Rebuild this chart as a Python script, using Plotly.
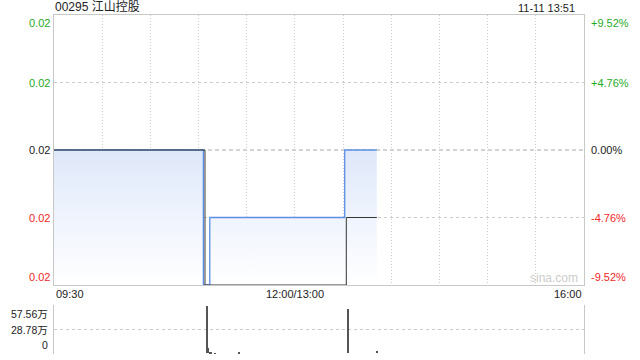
import plotly.graph_objects as go

title_text = "00295 江山控股"
timestamp = "11-11 13:51"
prev_close = 0.021

price_times = ["09:30", "11:03", "11:07", "13:31", "13:51"]
price_vals = [0.021, 0.019, 0.020, 0.021, 0.021]

avg_times = ["09:30", "11:04", "13:32", "13:51"]
avg_vals = [0.021, 0.019, 0.020, 0.020]

vol_times = ["11:05", "11:06", "11:07", "11:08", "11:10", "11:25", "13:33", "13:51"]
vol_vals = [575600, 70000, 15000, 8000, 5000, 6000, 530000, 35000]

price_ticks = [0.019, 0.020, 0.021, 0.022, 0.023]
price_labels = ["0.02", "0.02", "0.02", "0.02", "0.02"]
pct_labels = ["-9.52%", "-4.76%", "0.00%", "+4.76%", "+9.52%"]
vol_ticks = [0, 287800, 575600]
vol_labels = ["0", "28.78万", "57.56万"]
x_label_times = ["09:30", "12:00", "16:00"]
x_labels = ["09:30", "12:00/13:00", "16:00"]
grid_times = ["10:00", "10:30", "11:00", "11:30", "12:00", "13:30", "14:00",
              "14:30", "15:00", "15:30"]


def tmin(s):
    h, m = map(int, s.split(":"))
    mins = h * 60 + m
    if mins <= 720:
        return mins - 570
    return mins - 780 + 150


FONT = "Liberation Sans, Arial, Noto Sans CJK SC, sans-serif"
GREEN = "#1faa1f"
RED = "#f02828"
BLACK = "#222222"
GRID = "#cfcfcf"
HGRID = "#cbcbcb"
BORDER = "#c8c8c8"
DOT = "1px,2px"

px = [tmin(t) for t in price_times]
ax = [tmin(t) for t in avg_times]
vx = [tmin(t) for t in vol_times]

fig = go.Figure()

fig.add_trace(go.Scatter(
    x=px, y=price_vals, mode="lines", line=dict(color="#5b8fe3", width=1.3, shape="hv"),
    fill="tozeroy",
    fillgradient=dict(type="vertical", start=0.019, stop=0.021,
                      colorscale=[[0, "rgba(255,255,255,1)"], [1, "#dfe8fa"]]),
    xaxis="x", yaxis="y", hoverinfo="skip", showlegend=False))

fig.add_trace(go.Scatter(
    x=ax, y=avg_vals, mode="lines", line=dict(color="#333333", width=1, shape="hv"),
    xaxis="x", yaxis="y", hoverinfo="skip", showlegend=False))

fig.add_trace(go.Bar(
    x=vx, y=vol_vals, width=0.7, marker=dict(color="#555555", line=dict(width=0)),
    xaxis="x2", yaxis="y2", hoverinfo="skip", showlegend=False))

price_dom = [(354 - 285) / 339, 1.0]
vol_dom = [0.0, (354 - 305) / 339]
vpad = vol_ticks[-1] * 0.012

fig.update_layout(
    width=640, height=360, autosize=False,
    margin=dict(l=54, r=56, t=15, b=6, pad=0),
    paper_bgcolor="white", plot_bgcolor="white",
    font=dict(family=FONT, size=11, color=BLACK),
    bargap=0,
    xaxis=dict(domain=[0, 1], range=[0, 330], anchor="y",
               tickvals=[tmin(t) for t in grid_times], showticklabels=False,
               showgrid=True, gridcolor=GRID, griddash=DOT, gridwidth=1,
               showline=True, linecolor=BORDER, linewidth=1, mirror=True,
               zeroline=False, ticks=""),
    yaxis=dict(domain=price_dom, range=[price_ticks[0], price_ticks[-1]], anchor="x",
               tickmode="array",
               tickvals=[v for v in price_ticks if abs(v - prev_close) > 1e-9],
               showticklabels=False, showgrid=True, gridcolor=HGRID, griddash="dot",
               gridwidth=1,
               showline=True, linecolor=BORDER, linewidth=1, mirror=True,
               zeroline=False, ticks=""),
    xaxis2=dict(domain=[0, 1], range=[0, 330], anchor="y2", showticklabels=False,
                showgrid=False, showline=False, zeroline=False, ticks=""),
    yaxis2=dict(domain=vol_dom, range=[-vpad, vol_ticks[-1] + vpad], anchor="x2",
                tickmode="array", tickvals=vol_ticks, showticklabels=False, showgrid=True,
                gridcolor=HGRID, griddash="dot", gridwidth=1,
                showline=True, linecolor=BORDER, linewidth=1, mirror=True,
                zeroline=False, ticks=""),
)

fig.add_shape(type="line", xref="x", yref="y", x0=0, x1=330, y0=prev_close, y1=prev_close,
              line=dict(color="#a8a8a8", width=1, dash="4px,3px"), layer="below")

ann = []
n = len(price_ticks)
for i, (v, lab, pl) in enumerate(zip(price_ticks, price_labels, pct_labels)):
    if v > prev_close + 1e-9:
        col = GREEN
    elif v < prev_close - 1e-9:
        col = RED
    else:
        col = BLACK
    if i == n - 1:
        ya = "top"
    elif i == 0:
        ya = "bottom"
    else:
        ya = "middle"
    ann.append(dict(x=0, xref="paper", y=v, yref="y", text=lab, showarrow=False,
                    xanchor="right", yanchor=ya, xshift=-2, font=dict(color=col, size=11)))
    ann.append(dict(x=1, xref="paper", y=v, yref="y", text=pl, showarrow=False,
                    xanchor="left", yanchor=ya, xshift=5, font=dict(color=col, size=11)))

for i, (v, lab) in enumerate(zip(vol_ticks, vol_labels)):
    ya = "bottom" if i == 0 else ("top" if i == len(vol_ticks) - 1 else "middle")
    ann.append(dict(x=0, xref="paper", y=v, yref="y2", text=lab, showarrow=False,
                    xanchor="right", yanchor=ya, xshift=-4, font=dict(color=BLACK, size=10.5)))

xa = ["left", "center", "right"]
for t, lab, anc in zip(x_label_times, x_labels, xa):
    ann.append(dict(x=tmin(t), xref="x", y=(354 - 294) / 339, yref="paper", text=lab,
                    showarrow=False, xanchor=anc, yanchor="middle",
                    font=dict(color=BLACK, size=11)))

ann.append(dict(x=0, xref="paper", y=1 + (15 - 7) / 339, yref="paper", text=title_text,
                showarrow=False, xanchor="left", yanchor="middle", xshift=-1,
                font=dict(color=BLACK, size=12)))
ann.append(dict(x=(577 - 54) / 530, xref="paper", y=1 + (15 - 8) / 339, yref="paper",
                text=timestamp, showarrow=False, xanchor="right", yanchor="middle",
                font=dict(color=BLACK, size=11)))
ann.append(dict(x=(554 - 54) / 530, xref="paper", y=(354 - 278) / 339, yref="paper",
                text="sina.com", showarrow=False, xanchor="center", yanchor="middle",
                font=dict(color="#cccccc", size=12)))

fig.update_layout(annotations=ann)

fig.write_html("out.html")
